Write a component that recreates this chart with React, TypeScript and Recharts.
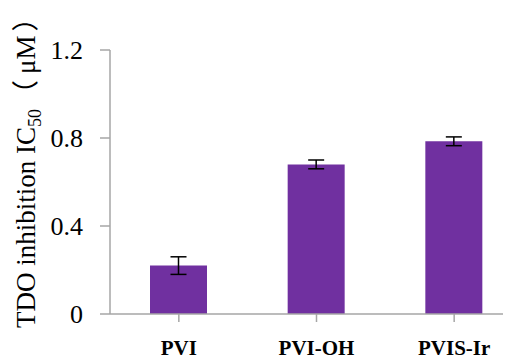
import React from 'react';
import { BarChart, Bar, XAxis, YAxis, ErrorBar } from 'recharts';

const categories = ['PVI', 'PVI-OH', 'PVIS-Ir'];
const ic50Values = [0.22, 0.68, 0.785];
const ic50Errors = [0.04, 0.02, 0.02];
const yTicks = [0, 0.4, 0.8, 1.2];

const data = categories.map((name, i) => ({ name, value: ic50Values[i], err: ic50Errors[i] }));

const AXIS_COLOR = '#a6a6a6';
const FONT = '"Liberation Serif", "Times New Roman", serif';
const CJK = '"Noto Sans CJK SC", ' + FONT;

const YLabel = () => {
  const x = 27;
  const y = 320;
  return (
    <text
      x={x}
      y={y}
      transform={`rotate(-90, ${x}, ${y})`}
      textAnchor="start"
      fill="#000"
      fontFamily={FONT}
      fontSize={27}
    >
      <tspan>TDO inhibition IC</tspan>
      <tspan fontSize={18} dy={6}>50</tspan>
      <tspan dy={-6} dx={2} fontFamily={CJK}>（</tspan>
      <tspan dx={6}>μM</tspan>
      <tspan dx={4} fontFamily={CJK}>）</tspan>
    </text>
  );
};

export default function App() {
  return (
    <div style={{ width: 503, height: 352, overflow: 'hidden' }}>
      <BarChart
        width={515}
        height={352}
        data={data}
        margin={{ top: 42, right: 0, bottom: 0, left: 0 }}
        barCategoryGap="0%"
      >
        <XAxis
          dataKey="name"
          height={46}
          tickSize={8}
          tickMargin={18}
          axisLine={{ stroke: AXIS_COLOR, strokeWidth: 1.5 }}
          tickLine={{ stroke: AXIS_COLOR, strokeWidth: 1.5 }}
          tick={{ fill: '#000', fontFamily: FONT, fontSize: 21, fontWeight: 'bold' }}
          interval={0}
        />
        <YAxis
          width={102}
          domain={[0, 1.2]}
          ticks={yTicks}
          tickSize={10}
          tickMargin={17}
          tickFormatter={(v: number) => (v === 0 ? '0' : v.toFixed(1))}
          axisLine={{ stroke: AXIS_COLOR, strokeWidth: 1.5 }}
          tickLine={{ stroke: AXIS_COLOR, strokeWidth: 1.5 }}
          tick={{ fill: '#000', fontFamily: FONT, fontSize: 26 }}
          label={<YLabel />}
          interval={0}
        />
        <Bar dataKey="value" fill="#7030A0" barSize={57} isAnimationActive={false}>
          <ErrorBar dataKey="err" width={8} stroke="#000" strokeWidth={1.5} isAnimationActive={false} />
        </Bar>
      </BarChart>
    </div>
  );
}
